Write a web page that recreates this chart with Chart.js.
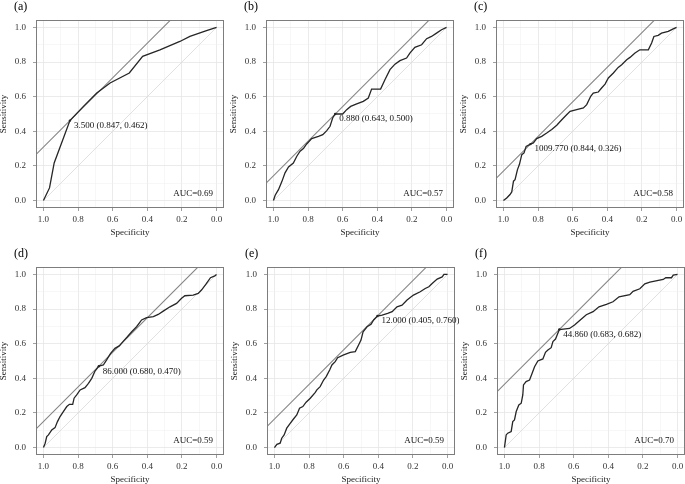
<!DOCTYPE html>
<html>
<head>
<meta charset="utf-8">
<script src="https://cdn.jsdelivr.net/npm/chart.js@4.4.1/dist/chart.umd.min.js"></script>
<style>
  html, body { margin: 0; padding: 0; background: #fff; overflow: hidden; }
  body { width: 685px; height: 484px; position: relative; }
  canvas { position: absolute; }
</style>
</head>
<body>
<script>
// panel texts
const panelLabels = ['(a)', '(b)', '(c)', '(d)', '(e)', '(f)'];
const aucValues = ['0.69', '0.57', '0.58', '0.59', '0.59', '0.70'];
const cutoffs = [3.5, 0.88, 1009.77, 86.0, 12.0, 44.86];
const bestSpec = [0.847, 0.643, 0.844, 0.680, 0.405, 0.683];
const bestSens = [0.462, 0.500, 0.326, 0.470, 0.760, 0.682];

// grid / tick positions (labels only on every 0.2)
const tickValues = [0, 0.1, 0.2, 0.3, 0.4, 0.5, 0.6, 0.7, 0.8, 0.9, 1.0];

// ROC curves (specificity, sensitivity)
const specA = [1.0, 0.965, 0.938, 0.847, 0.769, 0.692, 0.615, 0.504, 0.427, 0.327, 0.212, 0.154, 0.058, 0.0];
const sensA = [0.0, 0.073, 0.217, 0.462, 0.544, 0.621, 0.679, 0.737, 0.833, 0.871, 0.919, 0.948, 0.981, 1.0];

const specB = [1.0, 0.990, 0.971, 0.952, 0.933, 0.913, 0.885, 0.865, 0.846, 0.827, 0.808, 0.779, 0.740, 0.715, 0.692, 0.673, 0.658, 0.643, 0.600, 0.577, 0.554, 0.519, 0.481, 0.452, 0.433, 0.381, 0.356, 0.327, 0.298, 0.269, 0.231, 0.212, 0.183, 0.144, 0.115, 0.087, 0.058, 0.029, 0.0];
const sensB = [0.0, 0.031, 0.063, 0.108, 0.160, 0.194, 0.217, 0.256, 0.285, 0.300, 0.327, 0.358, 0.371, 0.381, 0.404, 0.429, 0.477, 0.500, 0.500, 0.525, 0.544, 0.558, 0.573, 0.592, 0.644, 0.644, 0.698, 0.756, 0.788, 0.808, 0.823, 0.852, 0.885, 0.900, 0.935, 0.948, 0.967, 0.987, 1.0];

const specC = [1.0, 0.981, 0.962, 0.952, 0.942, 0.933, 0.919, 0.908, 0.894, 0.881, 0.869, 0.844, 0.827, 0.808, 0.779, 0.750, 0.721, 0.692, 0.663, 0.635, 0.615, 0.577, 0.538, 0.519, 0.496, 0.481, 0.452, 0.433, 0.413, 0.394, 0.365, 0.337, 0.317, 0.288, 0.269, 0.240, 0.212, 0.163, 0.144, 0.131, 0.106, 0.087, 0.048, 0.019, 0.0];
const sensC = [0.0, 0.015, 0.035, 0.050, 0.112, 0.121, 0.179, 0.208, 0.265, 0.275, 0.313, 0.326, 0.333, 0.358, 0.371, 0.390, 0.410, 0.435, 0.467, 0.496, 0.515, 0.525, 0.535, 0.554, 0.602, 0.621, 0.627, 0.650, 0.673, 0.708, 0.737, 0.769, 0.785, 0.813, 0.827, 0.852, 0.871, 0.871, 0.910, 0.948, 0.954, 0.967, 0.977, 0.992, 1.0];

const specD = [1.0, 0.990, 0.981, 0.971, 0.952, 0.933, 0.919, 0.904, 0.885, 0.865, 0.850, 0.831, 0.823, 0.808, 0.788, 0.760, 0.740, 0.721, 0.702, 0.680, 0.654, 0.635, 0.612, 0.587, 0.562, 0.538, 0.515, 0.490, 0.462, 0.433, 0.404, 0.365, 0.337, 0.308, 0.269, 0.231, 0.202, 0.183, 0.135, 0.106, 0.087, 0.058, 0.035, 0.010, 0.0];
const sensD = [0.0, 0.025, 0.063, 0.073, 0.102, 0.115, 0.150, 0.179, 0.208, 0.237, 0.250, 0.250, 0.285, 0.304, 0.333, 0.346, 0.371, 0.400, 0.442, 0.470, 0.477, 0.506, 0.544, 0.573, 0.587, 0.615, 0.640, 0.669, 0.698, 0.737, 0.750, 0.756, 0.769, 0.788, 0.813, 0.833, 0.862, 0.877, 0.881, 0.890, 0.910, 0.948, 0.981, 0.992, 1.0];

const specE = [1.0, 0.986, 0.967, 0.958, 0.944, 0.929, 0.909, 0.890, 0.871, 0.855, 0.836, 0.817, 0.793, 0.764, 0.755, 0.736, 0.716, 0.701, 0.681, 0.668, 0.649, 0.635, 0.600, 0.562, 0.533, 0.514, 0.500, 0.488, 0.465, 0.442, 0.427, 0.405, 0.378, 0.346, 0.320, 0.292, 0.263, 0.234, 0.197, 0.158, 0.129, 0.108, 0.089, 0.060, 0.031, 0.021, 0.0];
const sensE = [0.0, 0.019, 0.025, 0.054, 0.073, 0.112, 0.140, 0.165, 0.188, 0.227, 0.237, 0.262, 0.285, 0.319, 0.333, 0.352, 0.390, 0.410, 0.448, 0.477, 0.496, 0.519, 0.535, 0.550, 0.554, 0.592, 0.621, 0.669, 0.698, 0.712, 0.737, 0.760, 0.765, 0.775, 0.785, 0.813, 0.823, 0.852, 0.881, 0.900, 0.919, 0.929, 0.948, 0.973, 0.986, 1.0, 1.0];

const specF = [1.0, 0.990, 0.981, 0.961, 0.952, 0.942, 0.932, 0.917, 0.903, 0.894, 0.890, 0.875, 0.855, 0.840, 0.826, 0.807, 0.778, 0.763, 0.749, 0.730, 0.720, 0.705, 0.683, 0.624, 0.595, 0.562, 0.527, 0.488, 0.454, 0.411, 0.373, 0.338, 0.276, 0.257, 0.218, 0.189, 0.160, 0.083, 0.068, 0.035, 0.025, 0.0];
const sensF = [0.0, 0.073, 0.083, 0.093, 0.150, 0.160, 0.208, 0.246, 0.256, 0.304, 0.362, 0.381, 0.390, 0.429, 0.467, 0.500, 0.512, 0.550, 0.563, 0.577, 0.612, 0.627, 0.682, 0.688, 0.708, 0.737, 0.767, 0.785, 0.813, 0.827, 0.842, 0.871, 0.883, 0.902, 0.917, 0.946, 0.956, 0.971, 0.981, 0.981, 0.996, 1.0];

const rocSpec = [specA, specB, specC, specD, specE, specF];
const rocSens = [sensA, sensB, sensC, sensD, sensE, sensF];

// where each plot area sits on the page
const areaLeft = [36, 266, 496, 36, 267, 497];
const areaTop = [20, 20, 20, 267, 267, 267];
const areaSize = 188;
const padL = 40, padT = 20, padR = 4, padB = 32;

const serif = '"Liberation Serif", "Times New Roman", serif';
const smallFont = { family: serif, size: 9 };
const isMajor = v => Math.round(v * 10) % 2 === 0;

// frame, cut-off text, AUC text and panel letter
const panelDecor = {
  id: 'panelDecor',
  afterDatasetsDraw(chart, args, opts) {
    const { ctx, chartArea: { left, top, right, bottom }, scales: { x, y } } = chart;
    ctx.save();
    ctx.strokeStyle = '#7d7d7d';
    ctx.lineWidth = 1;
    ctx.strokeRect(left + 0.5, top + 0.5, right - left - 1, bottom - top - 1);

    ctx.font = '9px ' + serif;
    ctx.fillStyle = '#111';
    ctx.textBaseline = 'middle';
    ctx.textAlign = 'left';
    ctx.fillText(opts.cutText, x.getPixelForValue(opts.spec) + 4, y.getPixelForValue(opts.sens) + 5);
    ctx.textAlign = 'right';
    ctx.fillText('AUC=' + opts.auc, x.getPixelForValue(0.02), y.getPixelForValue(0.04));

    ctx.font = '12px ' + serif;
    ctx.textAlign = 'left';
    ctx.fillStyle = '#000';
    ctx.fillText(opts.label, left - 22, top - 13);
    ctx.restore();
  }
};

panelLabels.forEach((label, i) => {
  const canvas = document.createElement('canvas');
  canvas.width = padL + areaSize + padR;
  canvas.height = padT + areaSize + padB;
  canvas.style.left = (areaLeft[i] - padL) + 'px';
  canvas.style.top = (areaTop[i] - padT) + 'px';
  document.body.appendChild(canvas);

  const k = bestSpec[i] + bestSens[i]; // iso-Youden line through the cut-off
  const curve = rocSpec[i].map((s, j) => ({ x: s, y: rocSens[i][j] }));

  new Chart(canvas, {
    type: 'line',
    data: {
      datasets: [
        { data: curve, borderColor: '#262626', borderWidth: 1.3, pointRadius: 0, tension: 0 },
        { data: [{ x: bestSpec[i], y: bestSens[i] }], showLine: false, pointRadius: 1.2, pointBackgroundColor: '#262626', pointBorderWidth: 0 },
        { data: [{ x: 1.2, y: k - 1.2 }, { x: k - 1.2, y: 1.2 }], borderColor: '#858585', borderWidth: 1.1, pointRadius: 0 },
        { data: [{ x: 1, y: 0 }, { x: 0, y: 1 }], borderColor: '#d9d9d9', borderWidth: 0.8, pointRadius: 0 }
      ]
    },
    options: {
      responsive: false,
      animation: false,
      devicePixelRatio: 1,
      layout: { padding: { left: 0, top: padT, right: padR, bottom: 0 } },
      plugins: {
        legend: { display: false },
        tooltip: { enabled: false },
        panelDecor: {
          label: label,
          auc: aucValues[i],
          spec: bestSpec[i],
          sens: bestSens[i],
          cutText: cutoffs[i].toFixed(3) + ' (' + bestSpec[i].toFixed(3) + ', ' + bestSens[i].toFixed(3) + ')'
        }
      },
      scales: {
        x: {
          type: 'linear',
          reverse: true,
          min: -0.043,
          max: 1.043,
          afterBuildTicks: s => { s.ticks = tickValues.map(v => ({ value: v })); },
          afterFit: s => { s.height = padB; },
          border: { display: false },
          grid: {
            color: c => isMajor(c.tick.value) ? '#e6e6e6' : '#efefef',
            lineWidth: c => isMajor(c.tick.value) ? 0.8 : 0.5,
            tickLength: 3,
            tickColor: c => isMajor(c.tick.value) ? '#888' : 'rgba(0,0,0,0)'
          },
          ticks: {
            autoSkip: false, maxRotation: 0, padding: 3, color: '#333', font: smallFont,
            callback: v => isMajor(v) ? v.toFixed(1) : ''
          },
          title: { display: true, text: 'Specificity', color: '#222', font: smallFont, padding: { top: 0, bottom: 2 } }
        },
        y: {
          type: 'linear',
          min: -0.043,
          max: 1.043,
          afterBuildTicks: s => { s.ticks = tickValues.map(v => ({ value: v })); },
          afterFit: s => { s.width = padL; },
          border: { display: false },
          grid: {
            color: c => isMajor(c.tick.value) ? '#e6e6e6' : '#efefef',
            lineWidth: c => isMajor(c.tick.value) ? 0.8 : 0.5,
            tickLength: 3,
            tickColor: c => isMajor(c.tick.value) ? '#888' : 'rgba(0,0,0,0)'
          },
          ticks: {
            autoSkip: false, padding: 7, color: '#333', font: smallFont,
            callback: v => isMajor(v) ? v.toFixed(1) : ''
          },
          title: { display: true, text: 'Sensitivity', color: '#222', font: smallFont, padding: { top: 2, bottom: 0 } }
        }
      }
    },
    plugins: [panelDecor]
  });
});
</script>
</body>
</html>
